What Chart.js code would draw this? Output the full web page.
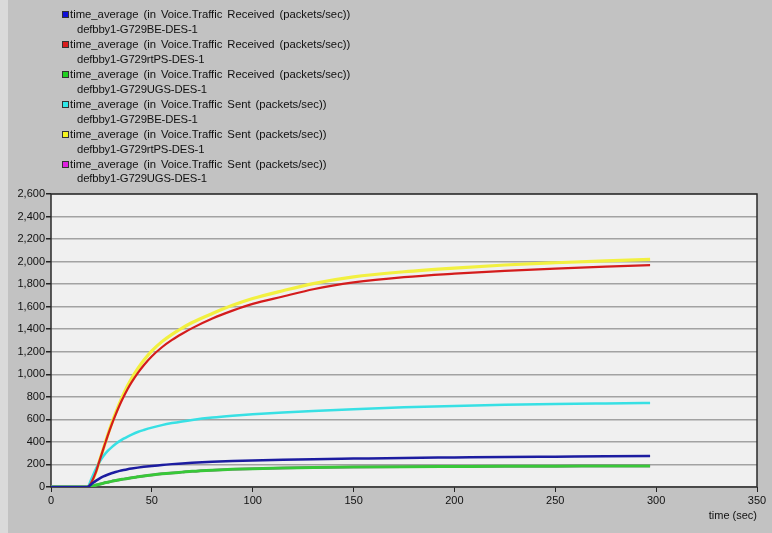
<!DOCTYPE html>
<html>
<head>
<meta charset="utf-8">
<script src="https://cdn.jsdelivr.net/npm/chart.js@4"></script>
<style>
  html, body { margin: 0; padding: 0; }
  body { width: 772px; height: 533px; background: #c2c2c2; position: relative; overflow: hidden;
         font-family: "Liberation Sans", Arial, sans-serif; }
  #strip { position: absolute; left: 0; top: 0; width: 8px; height: 533px; background: #dadada; }
  #chart { position: absolute; left: 0; top: 0; }
  #legend { position: absolute; left: 62px; top: 7px; font-size: 11.3px; line-height: 14.95px; color: #111; word-spacing: 1.8px; }
  .item { position: relative; white-space: nowrap; }
  .sw { position: absolute; left: 0; top: 4px; width: 5px; height: 5px; border: 1px solid #333; }
  .l1 { padding-left: 8px; }
  .l2 { padding-left: 15px; letter-spacing: -0.15px; }
</style>
</head>
<body>
<div id="strip"></div>
<canvas id="chart" width="772" height="533"></canvas>
<div id="legend"></div>
<script>
// simulation time (sec)
const time = [0, 18, 20, 22, 24, 26, 28, 30, 32, 34, 36, 38, 40, 43, 46, 50, 55, 60, 65, 70, 80, 90, 100, 115, 130, 150, 175, 200, 225, 250, 275, 297];

// Voice traffic received (packets/sec), time averaged
const recvBE   = [0, 0, 25, 52, 75, 94, 109, 122, 133, 143, 151, 158, 164, 172, 179, 187, 196, 203, 209, 215, 224, 231, 236, 242, 247, 252, 258, 262, 266, 269, 272, 274];
const recvRtPS = [0, 0, 40, 120, 230, 340, 450, 550, 640, 725, 800, 870, 930, 1010, 1080, 1160, 1240, 1305, 1360, 1410, 1495, 1565, 1625, 1690, 1755, 1815, 1862, 1893, 1918, 1938, 1955, 1968];
const recvUGS  = [0, 0, 6, 15, 25, 34, 42, 50, 57, 64, 70, 76, 82, 90, 98, 107, 117, 125, 132, 139, 149, 157, 163, 169, 173, 177, 180, 182, 184, 185, 186, 187];

// Voice traffic sent (packets/sec), time averaged
const sentBE   = [0, 0, 70, 150, 220, 275, 318, 352, 382, 407, 429, 448, 465, 488, 506, 527, 549, 567, 582, 595, 616, 632, 645, 661, 675, 691, 707, 719, 729, 736, 741, 745];
const sentRtPS = [0, 0, 40, 120, 230, 342, 455, 560, 655, 745, 825, 900, 965, 1050, 1125, 1208, 1290, 1355, 1410, 1460, 1540, 1612, 1672, 1742, 1805, 1865, 1910, 1943, 1970, 1990, 2007, 2020];
const sentUGS  = [0, 0, 6, 15, 25, 34, 42, 50, 57, 64, 70, 76, 82, 90, 98, 107, 117, 125, 132, 139, 149, 157, 163, 169, 173, 177, 180, 182, 184, 185, 186, 187];

const statRecv = 'time_average (in Voice.Traffic Received (packets/sec))';
const statSent = 'time_average (in Voice.Traffic Sent (packets/sec))';
const nodes = ['defbby1-G729BE-DES-1', 'defbby1-G729rtPS-DES-1', 'defbby1-G729UGS-DES-1'];

const series = [
  { stat: statRecv, node: nodes[0], values: recvBE,   line: '#1c1ca0', box: '#1010d8', width: 2.5 },
  { stat: statRecv, node: nodes[1], values: recvRtPS, line: '#d41c1c', box: '#d81c1c', width: 2.2 },
  { stat: statRecv, node: nodes[2], values: recvUGS,  line: '#38c838', box: '#20d020', width: 3 },
  { stat: statSent, node: nodes[0], values: sentBE,   line: '#38e0e4', box: '#30e8e8', width: 2.5 },
  { stat: statSent, node: nodes[1], values: sentRtPS, line: '#f2f040', box: '#f4f420', width: 3.2 },
  { stat: statSent, node: nodes[2], values: sentUGS,  line: '#e020e0', box: '#e020e0', width: 2.5 }
];

// legend
const legend = document.getElementById('legend');
series.forEach(s => {
  const it = document.createElement('div');
  it.className = 'item';
  it.innerHTML = '<span class="sw" style="background:' + s.box + '"></span>' +
    '<div class="l1"></div><div class="l2"></div>';
  it.querySelector('.l1').textContent = s.stat;
  it.querySelector('.l2').textContent = s.node;
  legend.appendChild(it);
});

// plot background and frame
const framePlugin = {
  id: 'frame',
  beforeDraw(chart) {
    const a = chart.chartArea, c = chart.ctx;
    c.save();
    c.fillStyle = '#f0f0f0';
    c.fillRect(a.left, a.top, a.right - a.left, a.bottom - a.top);
    c.restore();
  },
  beforeDatasetsDraw(chart) {
    const a = chart.chartArea, c = chart.ctx;
    c.save();
    c.strokeStyle = '#2a2a2a';
    c.lineWidth = 1.5;
    c.strokeRect(a.left, a.top, a.right - a.left, a.bottom - a.top);
    c.restore();
  }
};

const tickFont = { family: '"Liberation Sans", Arial, sans-serif', size: 11 };

new Chart(document.getElementById('chart'), {
  type: 'line',
  data: {
    datasets: series.map(s => ({
      label: s.stat + ' ' + s.node,
      data: time.map((t, i) => ({ x: t, y: s.values[i] })),
      borderColor: s.line,
      backgroundColor: s.line,
      borderWidth: s.width,
      pointRadius: 0,
      fill: false,
      cubicInterpolationMode: 'monotone'
    }))
  },
  options: {
    responsive: false,
    animation: false,
    events: [],
    layout: { padding: { top: 194, right: 15, left: 0, bottom: 0 } },
    plugins: { legend: { display: false }, tooltip: { enabled: false } },
    scales: {
      x: {
        type: 'linear', min: 0, max: 350,
        ticks: { stepSize: 50, color: '#111', font: tickFont, padding: 2, maxRotation: 0 },
        grid: { drawOnChartArea: false, tickColor: '#222', tickLength: 5, lineWidth: 1 },
        border: { display: false },
        title: { display: true, text: 'time (sec)', align: 'end', color: '#111', font: tickFont, padding: { top: 0, bottom: 10 } },
        afterFit(s) { s.height = 46; }
      },
      y: {
        min: 0, max: 2600,
        ticks: { stepSize: 200, color: '#111', font: tickFont, padding: 1 },
        grid: { color: '#a2a2a2', lineWidth: 1.5, tickColor: '#222', tickLength: 5 },
        border: { display: false },
        afterFit(s) { s.width = 51; }
      }
    }
  },
  plugins: [framePlugin]
});
</script>
</body>
</html>
